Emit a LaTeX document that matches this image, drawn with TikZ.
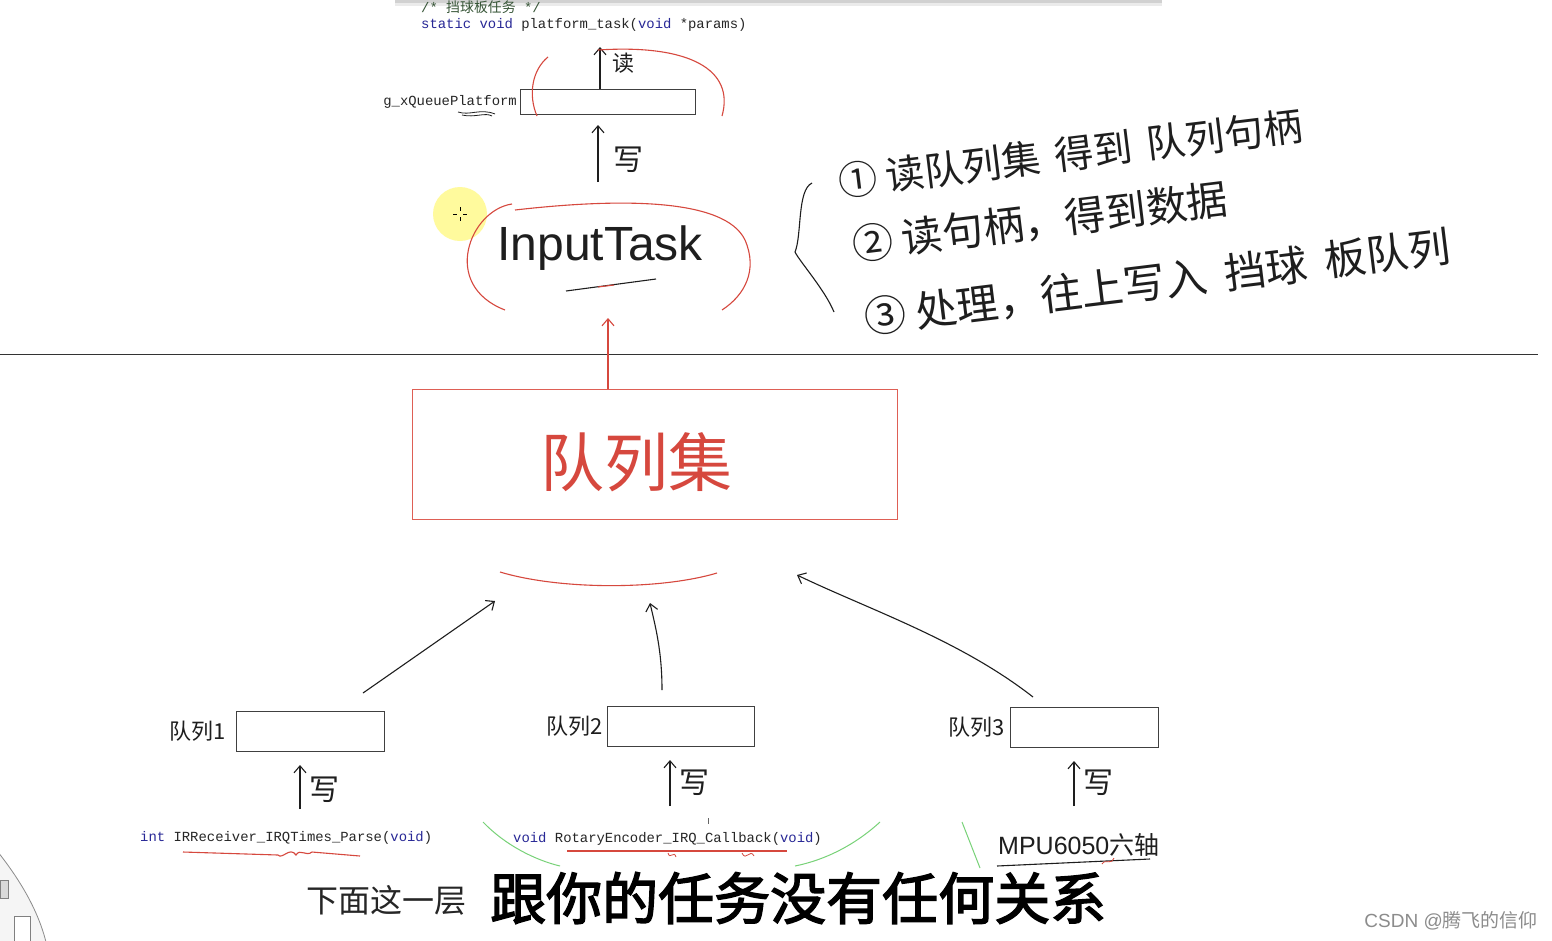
\documentclass[tikz,border=0pt]{standalone}
\usepackage{fontspec}
\usetikzlibrary{arrows.meta,calc}
\setmainfont{Liberation Sans}
\newfontfamily\cjk{Noto Sans CJK SC}
\newfontfamily\cjkb[FakeBold=2.5]{Noto Sans CJK SC}
\newfontfamily\mono{Liberation Mono}
\definecolor{redc}{RGB}{214,72,62}
\definecolor{boxred}{RGB}{222,95,85}
\definecolor{navyc}{RGB}{40,40,150}
\definecolor{commentc}{RGB}{55,85,55}
\definecolor{greenc}{RGB}{120,210,120}
\definecolor{inkc}{RGB}{30,30,30}
\begin{document}
\begin{tikzpicture}[x=1pt,y=-1pt,
  pen/.style={line width=1.1pt, draw=inkc},
  redpen/.style={line width=1.1pt, draw=redc},
  greenpen/.style={line width=1pt, draw=greenc},
  qbox/.style={draw=black!75, line width=1pt, minimum width=148pt, minimum height=40pt, inner sep=0pt, anchor=north west},
  codetxt/.style={font=\mono\fontsize{13.9}{16}\selectfont, inner sep=0pt, anchor=west, text=black!85},
  hand/.style={font=\cjk\fontsize{22}{26}\selectfont, inner sep=0pt, text=inkc},
  listtxt/.style={inner sep=0pt, anchor=west, text=inkc, rotate=7},
  >={Straight Barb[length=7pt,width=12pt]}]
\useasboundingbox (0,0) rectangle (1552,940);
\fill[white] (0,0) rectangle (1552,940);

% window edge at the top
\fill[black!18] (395,0) rectangle (1162,3);
\fill[black!8] (395,3) rectangle (1162,6);

% code header
\node[codetxt, text=commentc] (cmt) at (421,7) {/* {\cjk 挡球板任务} */};
\node[codetxt] (sig) at (421,25) {\textcolor{navyc}{static void} platform\_task(\textcolor{navyc}{void} *params)};

% platform queue
\node[qbox, minimum width=175pt, minimum height=25pt] (pbox) at (520,89) {};
\node[codetxt, anchor=east] (plabel) at (517,102) {g\_xQueuePlatform};
\draw[inkc, line width=0.8pt] (458,112) .. controls (470,116) and (480,108) .. (495,114) (462,115) .. controls (475,118) and (485,112) .. (492,116);
\coordinate (rdTop) at (600,47);
\draw[pen,->] ($(pbox.north west)+(80,0)$) -- (rdTop);
\node[hand] (rd) at (623,63) {读};
% red ellipse round the platform queue
\draw[redpen] (548,57) .. controls (532,70) and (528,95) .. (537,116);
\draw[redpen] (598,50) .. controls (690,44) and (735,70) .. (722,116);

% InputTask
\fill[yellow!70, opacity=0.55] (460,214) circle (27);
\draw[black, line width=0.6pt] (460,207) -- (460,211) (460,217) -- (460,221) (453,214) -- (457,214) (463,214) -- (467,214);
\node[font=\fontsize{48}{52}\selectfont, inner sep=0pt, text=inkc] (it) at (600,248) {InputTask};
\draw[pen] (566,291) -- (656,279);
\draw[redpen] (598,287) -- (614,285);
\draw[redpen] (512,204) .. controls (470,210) and (440,285) .. (505,310);
\draw[redpen] (515,210) .. controls (620,198) and (725,198) .. (745,240) .. controls (758,270) and (745,295) .. (722,310);
\coordinate (wrFrom) at (598,182);
\draw[pen,->] (wrFrom) -- ($(pbox.south west)+(78,10)$);
\node[hand, font=\cjk\fontsize{30}{32}\selectfont] (wr0) at (628,160) {写};

% steps
\draw[pen] (812,183) .. controls (797,190) and (802,235) .. (795,252) .. controls (800,262) and (825,290) .. (834,312);
\node[listtxt, font=\cjk\fontsize{39}{42}\selectfont] (s1) at (838,182) {① 读队列集\hspace{6pt} 得到\hspace{6pt} 队列句柄};
\node[listtxt, font=\cjk\fontsize{41}{44}\selectfont] (s2) at (852,245) {② 读句柄，得到数据};
\node[listtxt, font=\cjk\fontsize{42}{45}\selectfont] (s3) at (864,318) {③ 处理，往上写入\hspace{8pt} 挡球\hspace{8pt} 板队列};

% divider
\draw[line width=1pt, black!80] (0,354) -- (1538,354);

% queue set
\node[draw=boxred, line width=1.1pt, minimum width=485pt, minimum height=130pt, inner sep=0pt, anchor=north west] (qset) at (412,389) {};
\node[font=\cjk\fontsize{64}{68}\selectfont, text=redc, inner sep=0pt] (qsettxt) at (636,462) {队列集};
\coordinate (itBottom) at (608,318);
\draw[redpen,->] ($(qset.north west)+(196,0)$) -- (itBottom);

% red arc under the set
\draw[redpen] (500,572) .. controls (560,590) and (660,590) .. (717,573);
\coordinate (a1) at (495,601);
\coordinate (a2) at (650,603);
\coordinate (a3) at (797,575);

% queues
\node[qbox] (q1) at (236,711) {};
\node[qbox, minimum width=147pt] (q2) at (607,706) {};
\node[qbox] (q3) at (1010,707) {};
\node[hand, anchor=east] (q1l) at (226,731) {队列1};
\node[hand, anchor=east] (q2l) at (603,726) {队列2};
\node[hand, anchor=east] (q3l) at (1005,727) {队列3};

\draw[pen,->] ($(q1.north east)+(-22,-18)$) -- (a1);
\draw[pen,->] ($(q2.north west)+(55,-16)$) .. controls (662,650) and (655,625) .. (a2);
\draw[pen,->] ($(q3.north west)+(23,-10)$) .. controls (960,640) and (870,610) .. (a3);

% writers
\draw[pen,->] ($(q1.south west)+(64,57)$) -- ($(q1.south west)+(64,13)$);
\node[hand, font=\cjk\fontsize{30}{32}\selectfont] (w1) at (324,790) {写};
\draw[pen,->] ($(q2.south west)+(63,59)$) -- ($(q2.south west)+(63,13)$);
\node[hand, font=\cjk\fontsize{30}{32}\selectfont] (w2) at (694,783) {写};
\draw[pen,->] ($(q3.south west)+(64,58)$) -- ($(q3.south west)+(64,13)$);
\node[hand, font=\cjk\fontsize{30}{32}\selectfont] (w3) at (1098,783) {写};

\node[codetxt] (c1) at (140,838) {\textcolor{navyc}{int} IRReceiver\_IRQTimes\_Parse(\textcolor{navyc}{void})};
\node[codetxt] (c2) at (513,839) {\textcolor{navyc}{void} RotaryEncoder\_IRQ\_Callback(\textcolor{navyc}{void})};
\node[font=\fontsize{25}{28}\selectfont, inner sep=0pt, anchor=west, text=inkc] (c3) at (998,845) {MPU6050{\cjk 六轴}};

% underlines
\draw[redpen] (183,852) -- (278,855) .. controls (282,860) and (290,846) .. (296,855) .. controls (300,848) and (306,857) .. (312,852) -- (360,856);
\draw[redpen] (567,851) -- (787,851);
\draw[redpen, line width=0.8pt] (668,853) .. controls (670,860) and (674,850) .. (676,857) (742,853) .. controls (746,862) and (750,848) .. (754,856);
\draw[line width=0.7pt, black!60] (708,818) -- (708,824);
\draw[pen] (997,866) -- (1150,859);
\draw[redpen, line width=0.8pt] (1102,864) .. controls (1106,858) and (1110,866) .. (1114,858);
\draw[greenpen] (483,822) .. controls (505,845) and (535,860) .. (560,866);
\draw[greenpen] (880,822) .. controls (855,845) and (825,860) .. (795,866);
\draw[greenpen] (962,822) -- (980,868);

% bottom-left window widget
\draw[black!45, fill=black!4, line width=0.8pt] (-2,852) .. controls (20,880) and (38,910) .. (46,942) -- (-2,942) -- cycle;
\draw[black!50, fill=black!15] (0,880) rectangle (8,898);
\draw[black!50, fill=white] (14,916) rectangle (30,942);

% subtitles
\node[font=\cjk\fontsize{32}{36}\selectfont, anchor=west, inner sep=0pt, text=black!85] (sub1) at (306,900) {下面这一层};
\node[font=\cjkb\fontsize{56}{60}\selectfont, anchor=west, inner sep=0pt, text=black] (sub2) at (490,898) {跟你的任务没有任何关系};
\node[font=\fontsize{19}{21}\selectfont, anchor=east, inner sep=0pt, text=black!45] (wm) at (1538,921) {CSDN @{\cjk 腾飞的信仰}};
\end{tikzpicture}
\end{document}
